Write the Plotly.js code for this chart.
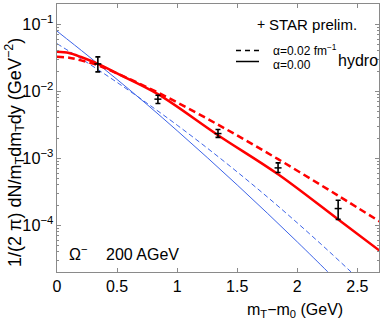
<!DOCTYPE html>
<html>
<head>
<meta charset="utf-8">
<script src="https://cdn.plot.ly/plotly-3.0.1.min.js"></script>
<style>html,body{margin:0;padding:0;background:#fff;}#chart{width:382px;height:327px;}</style>
</head>
<body>
<div id="chart"></div>
<script>
// STAR preliminary Omega- data (200 AGeV)
var starX = [0.34, 0.84, 1.34, 1.84, 2.34];
var starY = [0.0255, 0.0076, 0.00233, 0.000716, 0.000177];
var starUpper = [0.0325, 0.0087, 0.00268, 0.00085, 0.000236];
var starLower = [0.0194, 0.00655, 0.00204, 0.000612, 0.000122];

// hydro, alpha = 0.00 (red solid)
var redSolidX = [0, 0.1, 0.2, 0.35, 0.5, 0.84, 1.34, 1.84, 2.33, 2.69];
var redSolidY = [0.03864, 0.03715, 0.03236, 0.02512, 0.01837, 0.009016, 0.002203, 0.0005754, 0.0001259, 0.00004093];

// hydro, alpha = 0.02 fm^-1 (red dashed)
var redDashX = [0, 0.1, 0.2, 0.35, 0.5, 0.84, 1.34, 1.84, 2.34, 2.69];
var redDashY = [0.03251, 0.03162, 0.02884, 0.02399, 0.01841, 0.00955, 0.003162, 0.0009661, 0.0002754, 0.0001122];

// blue solid
var blueSolidX = [0, 0.25, 0.5, 0.75, 1.0, 1.25, 1.5, 1.75, 2.0, 2.25, 2.35];
var blueSolidY = [0.0787, 0.03467, 0.01496, 0.00631, 0.00257, 0.001023, 0.0003981, 0.0001514, 0.00005623, 0.00002042, 0.00001349];

// blue dashed
var blueDashX = [0, 0.25, 0.5, 0.75, 1.0, 1.25, 1.5, 1.75, 2.0, 2.25, 2.5, 2.6];
var blueDashY = [0.05117, 0.02679, 0.01352, 0.006592, 0.003112, 0.001416, 0.0006223, 0.0002642, 0.0001081, 0.00004276, 0.00001633, 0.00001096];

var errPlus = starY.map(function(v, i){ return starUpper[i] - v; });
var errMinus = starY.map(function(v, i){ return v - starLower[i]; });

var FONT = 'Liberation Sans, Arial, Helvetica, sans-serif';
var RED = '#ff0000';
var BLUE = '#3d64e8';
var AX = '#8a8a8a';

var traces = [
  {x: blueSolidX, y: blueSolidY, mode: 'lines', line: {color: BLUE, width: 1, shape: 'spline'}},
  {x: blueDashX, y: blueDashY, mode: 'lines', line: {color: BLUE, width: 1, dash: '5px,3px', shape: 'spline'}},
  {x: redSolidX, y: redSolidY, mode: 'lines', line: {color: RED, width: 2.5, shape: 'spline'}},
  {x: redDashX, y: redDashY, mode: 'lines', line: {color: RED, width: 2.5, dash: '7px,4px', shape: 'spline'}},
  {x: starX, y: starY, mode: 'markers',
   marker: {symbol: 'line-ew', size: 5, color: '#000', line: {color: '#000', width: 1.5}},
   error_y: {type: 'data', symmetric: false, array: errPlus, arrayminus: errMinus, color: '#000', thickness: 1.6, width: 2.5},
   cliponaxis: false}
];

function px2x(p){ return (p - 57) / 322; }
function px2y(p){ return (272 - p) / 268; }

var layout = {
  width: 382, height: 327,
  margin: {l: 57, r: 3, t: 4, b: 55, pad: 0},
  paper_bgcolor: '#fff', plot_bgcolor: '#fff',
  showlegend: false,
  font: {family: FONT, color: '#000'},
  xaxis: {
    range: [0, 2.68], dtick: 0.5, tick0: 0,
    ticks: 'inside', ticklen: 4, tickcolor: AX, tickwidth: 1,
    showline: true, linecolor: AX, linewidth: 1, mirror: 'ticks',
    showgrid: false, zeroline: false,
    tickfont: {size: 16, family: FONT, color: '#000'}
  },
  yaxis: {
    type: 'log', range: [Math.log10(2e-5), Math.log10(0.2)], dtick: 1,
    exponentformat: 'power',
    ticks: 'inside', ticklen: 4, tickcolor: AX, tickwidth: 1,
    minor: {ticks: 'inside', ticklen: 2, tickcolor: AX, dtick: 'D1', showgrid: false},
    showline: true, linecolor: AX, linewidth: 1, mirror: 'ticks',
    showgrid: false, zeroline: false,
    tickfont: {size: 13, family: FONT, color: '#000'}
  },
  shapes: [
    {type: 'line', xref: 'paper', yref: 'paper', x0: px2x(236), x1: px2x(259), y0: px2y(50.5), y1: px2y(50.5),
     line: {color: '#000', width: 1.5, dash: '5px,4px'}},
    {type: 'line', xref: 'paper', yref: 'paper', x0: px2x(236), x1: px2x(259), y0: px2y(61.5), y1: px2y(61.5),
     line: {color: '#000', width: 1.5}}
  ],
  annotations: [
    {xref: 'paper', yref: 'paper', x: px2x(260.5), y: px2y(24), text: '+', showarrow: false,
     xanchor: 'center', yanchor: 'middle', font: {size: 14, family: FONT, color: '#000'}},
    {xref: 'paper', yref: 'paper', x: px2x(267), y: px2y(24), text: 'STAR prelim.', showarrow: false,
     xanchor: 'left', yanchor: 'middle', font: {size: 15, family: FONT, color: '#000'}},
    {xref: 'paper', yref: 'paper', x: px2x(271), y: px2y(50), text: '\u03b1=0.02 fm<sup>\u22121</sup>', showarrow: false,
     xanchor: 'left', yanchor: 'middle', font: {size: 12, family: FONT, color: '#000'}},
    {xref: 'paper', yref: 'paper', x: px2x(271), y: px2y(65), text: '\u03b1=0.00', showarrow: false,
     xanchor: 'left', yanchor: 'middle', font: {size: 12, family: FONT, color: '#000'}},
    {xref: 'paper', yref: 'paper', x: px2x(336), y: px2y(60), text: 'hydro', showarrow: false,
     xanchor: 'left', yanchor: 'middle', font: {size: 16, family: FONT, color: '#000'}},
    {xref: 'paper', yref: 'paper', x: px2x(67), y: px2y(253), text: '\u03a9<sup>\u2212</sup>', showarrow: false,
     xanchor: 'left', yanchor: 'middle', font: {size: 16, family: FONT, color: '#000'}},
    {xref: 'paper', yref: 'paper', x: px2x(104), y: px2y(254), text: '200 AGeV', showarrow: false,
     xanchor: 'left', yanchor: 'middle', font: {size: 16, family: FONT, color: '#000'}},
    {xref: 'paper', yref: 'paper', x: px2x(295), y: px2y(310), text: 'm<sub>T</sub>\u2212m<sub>0</sub> (GeV)', showarrow: false,
     xanchor: 'center', yanchor: 'middle', font: {size: 16, family: FONT, color: '#000'}},
    {xref: 'paper', yref: 'paper', x: px2x(14), y: px2y(153), textangle: -90,
     text: '1/(2 \u03c0) dN/m<sub>T</sub>dm<sub>T</sub>dy (GeV<sup>\u22122</sup>)', showarrow: false,
     xanchor: 'center', yanchor: 'middle', font: {size: 18, family: FONT, color: '#000'}}
  ]
};

Plotly.newPlot('chart', traces, layout, {displayModeBar: false, staticPlot: true});
</script>
</body>
</html>
